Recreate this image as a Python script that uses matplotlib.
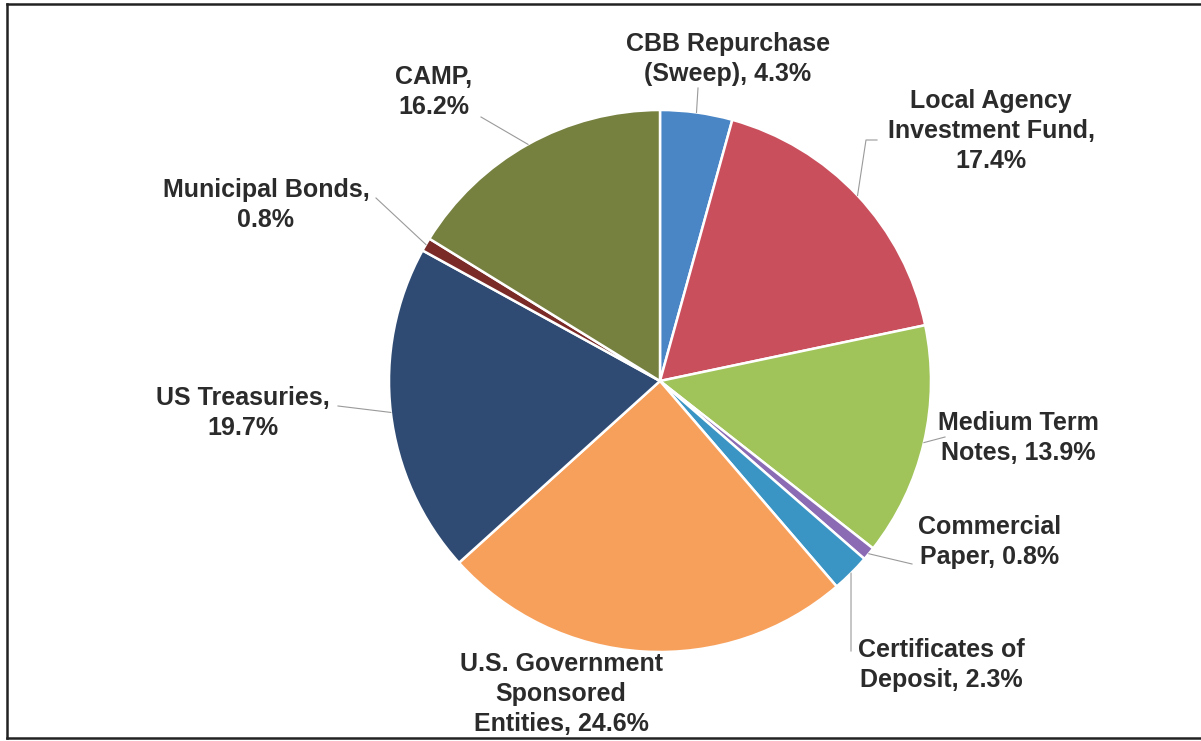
import matplotlib.pyplot as plt
import numpy as np
from matplotlib.lines import Line2D

# Portfolio allocation by investment type (percent of total)
categories = [
    "CBB Repurchase (Sweep)",
    "Local Agency Investment Fund",
    "Medium Term Notes",
    "Commercial Paper",
    "Certificates of Deposit",
    "U.S. Government Sponsored Entities",
    "US Treasuries",
    "Municipal Bonds",
    "CAMP",
]
shares = [4.3, 17.4, 13.9, 0.8, 2.3, 24.6, 19.7, 0.8, 16.2]
colors = ["#4a85c6", "#c94f5d", "#a0c35a", "#8a6bb4", "#3a95c4",
          "#f7a05c", "#2f4b73", "#7a2b28", "#76803f"]

# how each data label wraps; {} gets the share
label_fmt = [
    "CBB Repurchase\n(Sweep), {:.1f}%",
    "Local Agency\nInvestment Fund,\n{:.1f}%",
    "Medium Term\nNotes, {:.1f}%",
    "Commercial\nPaper, {:.1f}%",
    "Certificates of\nDeposit, {:.1f}%",
    "U.S. Government\nSponsored\nEntities, {:.1f}%",
    "US Treasuries,\n{:.1f}%",
    "Municipal Bonds,\n{:.1f}%",
    "CAMP,\n{:.1f}%",
]

W, H = 1201, 741


def img(x, y):
    # pixel position measured from the top-left corner -> axes coords
    return x, H - y


# label text block centre, and where its leader line starts (None = no line)
label_pos = [
    (728, 59), (991, 131), (1018, 438), (990, 542), (941, 665),
    (561, 694), (243, 413), (266, 205), (434, 92),
]
leader_from = [
    [(698, 88)],
    [(877, 140), (866, 140)],
    [(945, 437)],
    [(912, 564)],
    [(851, 651)],
    None,
    [(338, 406)],
    [(376, 198)],
    [(481, 117)],
]

fig = plt.figure(figsize=(W / 100, H / 100), dpi=100)
ax = fig.add_axes([0, 0, 1, 1])

cx, cy = img(660, 381)
radius = 271
wedges, _ = ax.pie(shares, colors=colors, startangle=90, counterclock=False,
                   center=(cx, cy), radius=radius, frame=True,
                   wedgeprops=dict(edgecolor="white", linewidth=1.8))
ax.set_xlim(0, W)
ax.set_ylim(0, H)
ax.set_aspect("equal")
ax.axis("off")

for i, w in enumerate(wedges):
    x, y = img(*label_pos[i])
    ax.text(x, y, label_fmt[i].format(shares[i]), ha="center", va="center",
            fontsize=18, fontweight="bold", color="#2b2b2b",
            family=["Liberation Sans"], linespacing=1.3)
    if leader_from[i] is None:
        continue
    mid = np.deg2rad((w.theta1 + w.theta2) / 2)
    ex = cx + radius * np.cos(mid)
    ey = cy + radius * np.sin(mid)
    pts = [img(*p) for p in leader_from[i]] + [(ex, ey)]
    xs, ys = zip(*pts)
    ax.plot(xs, ys, color="#9a9a9a", linewidth=0.8)

# outer border of the chart area
for seg in [((7, 4), (W, 4)), ((7, 4), (7, 738)), ((7, 738), (W, 738))]:
    (x0, y0), (x1, y1) = seg
    fig.add_artist(Line2D([x0 / W, x1 / W], [1 - y0 / H, 1 - y1 / H],
                          color="#222222", linewidth=1.8))

fig.savefig("out.png", dpi=100, facecolor="white")
